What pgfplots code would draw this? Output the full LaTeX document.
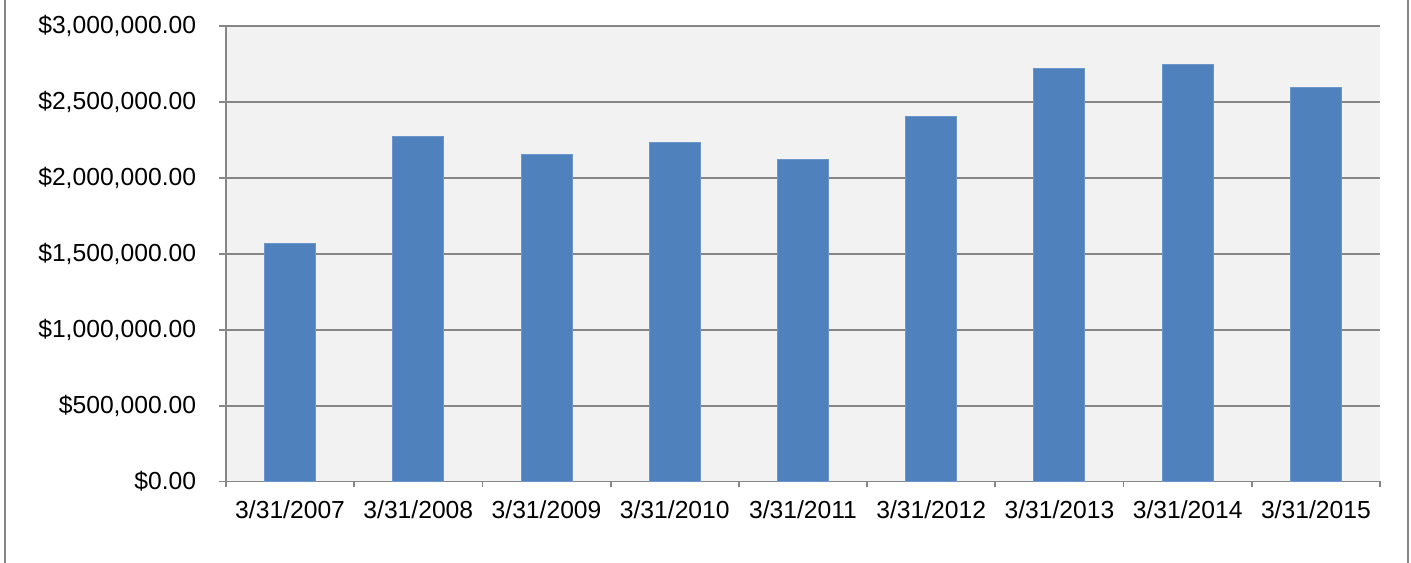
\documentclass[border=0pt]{standalone}
\usepackage{fontspec}
\setmainfont{Liberation Sans}
\usepackage{pgfplots}
\pgfplotsset{compat=1.18}
\definecolor{barblue}{HTML}{4F81BD}
\definecolor{baredge}{HTML}{6A96CB}
\definecolor{plotbg}{HTML}{F2F2F2}
\definecolor{gridgray}{HTML}{868686}
\begin{document}
\begin{tikzpicture}[x=1pt,y=1pt]
\path[use as bounding box] (-169.5pt,-61.125pt) rectangle (888.75pt,361.125pt);
\begin{axis}[
  at={(0pt,0pt)}, anchor=south west,
  scale only axis,
  width=865.5pt, height=341.6pt,
  xmin=-0.5, xmax=8.5, ymin=0, ymax=3000000,
  axis background/.style={fill=plotbg},
  axis x line*=bottom, axis y line*=left,
  axis line style={gridgray, line width=1.4pt, -},
  ybar, bar width=38.25pt,
  xtick={0,...,8},
  xticklabels={3/31/2007,3/31/2008,3/31/2009,3/31/2010,3/31/2011,3/31/2012,3/31/2013,3/31/2014,3/31/2015},
  minor xtick={-0.5,0.5,...,8.5},
  ytick={0,500000,1000000,1500000,2000000,2500000,3000000},
  yticklabels={\$0.00,\$500{,}000.00,\$1{,}000{,}000.00,\$1{,}500{,}000.00,\$2{,}000{,}000.00,\$2{,}500{,}000.00,\$3{,}000{,}000.00},
  scaled y ticks=false,
  tick align=outside,
  major x tick style={draw=none},
  minor x tick style={gridgray, line width=1.4pt},
  minor tick length=4.5pt,
  major tick length=5.25pt,
  y tick style={gridgray, line width=1.4pt},
  ymajorgrids,
  grid style={gridgray, line width=1.4pt},
  ticklabel style={font=\fontsize{18.5}{20}\selectfont, text=black},
  yticklabel style={anchor=east, inner sep=0pt, xshift=-17pt},
  xticklabel style={anchor=north, inner sep=0pt, yshift=-8.6pt},
  clip=false,
]
\addplot[fill=barblue, draw=baredge, line width=0.75pt] coordinates {
 (0,1566000) (1,2271000) (2,2157000) (3,2231000) (4,2122000)
 (5,2407000) (6,2723000) (7,2745000) (8,2596000)};
\end{axis}
\draw[gridgray, line width=1.5pt] (-165.75pt,-61.125pt) -- (-165.75pt,361.125pt);
\draw[gridgray, line width=1.5pt] (886.5pt,-61.125pt) -- (886.5pt,361.125pt);
\end{tikzpicture}
\end{document}
